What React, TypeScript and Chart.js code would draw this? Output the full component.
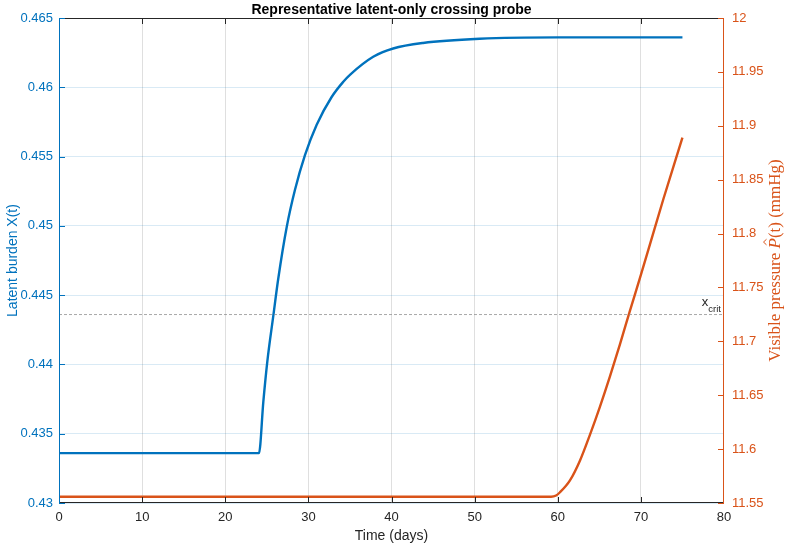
import React, { useEffect, useRef } from "react";
import { Chart, registerables } from "chart.js";

Chart.register(...registerables);

// Latent burden X(t) (left axis)
const latentTime = [0, 24.06, 24.58, 25.06, 25.78, 26.38, 27.39, 28.39, 29.59, 31.0, 32.8, 34.2, 35.0, 37.8, 40.2, 43.8, 50.6, 60, 75];
const latentValues = [0.4336, 0.4336, 0.4373, 0.4402, 0.4435, 0.4462, 0.4499, 0.4526, 0.4551, 0.4573, 0.4593, 0.4604, 0.4609, 0.4622, 0.4628, 0.4632, 0.4635, 0.4636, 0.4636];

// Visible pressure P-hat(t) (right axis)
const pressureTime = [0, 59.2, 59.8, 60.27, 61.47, 62.68, 63.88, 65.08, 66.28, 67.49, 68.69, 70, 71.1, 72.7, 75];
const pressureValues = [11.5558, 11.5558, 11.557, 11.56, 11.571, 11.5895, 11.6135, 11.6395, 11.6675, 11.6975, 11.7285, 11.7616, 11.7902, 11.8318, 11.889];

// critical threshold
const xCritValue = 0.4436;
const xCritSpan = [0, 80];

// tick labels
const xTicks = [0, 10, 20, 30, 40, 50, 60, 70, 80];
const leftTicks = [0.43, 0.435, 0.44, 0.445, 0.45, 0.455, 0.46, 0.465];
const rightTicks = [11.55, 11.6, 11.65, 11.7, 11.75, 11.8, 11.85, 11.9, 11.95, 12];

const BLUE = "#0072BD";
const ORANGE = "#D95319";
const DARK = "#262626";
const SANS = '"Liberation Sans", Arial, Helvetica, sans-serif';
const SERIF = '"Liberation Serif", "Times New Roman", serif';

const fmt = (v: number) => String(parseFloat(Number(v).toFixed(4)));

const overlay = {
  id: "overlay",
  afterDraw(chart: any) {
    const { ctx, chartArea: a, scales } = chart;
    ctx.save();
    ctx.lineWidth = 1;

    // box
    ctx.strokeStyle = DARK;
    ctx.beginPath();
    ctx.moveTo(a.left, Math.round(a.top) + 0.5);
    ctx.lineTo(a.right, Math.round(a.top) + 0.5);
    ctx.moveTo(a.left, Math.round(a.bottom) - 0.5);
    ctx.lineTo(a.right, Math.round(a.bottom) - 0.5);
    ctx.stroke();
    ctx.strokeStyle = BLUE;
    ctx.beginPath();
    ctx.moveTo(Math.round(a.left) + 0.5, a.top);
    ctx.lineTo(Math.round(a.left) + 0.5, a.bottom);
    ctx.stroke();
    ctx.strokeStyle = ORANGE;
    ctx.beginPath();
    ctx.moveTo(Math.round(a.right) - 0.5, a.top);
    ctx.lineTo(Math.round(a.right) - 0.5, a.bottom);
    ctx.stroke();

    // inward ticks
    const tl = 6;
    ctx.strokeStyle = DARK;
    ctx.beginPath();
    xTicks.forEach((v) => {
      if (v === xTicks[0] || v === xTicks[xTicks.length - 1]) return;
      const px = Math.round(scales.x.getPixelForValue(v)) + 0.5;
      ctx.moveTo(px, a.bottom);
      ctx.lineTo(px, a.bottom - tl);
      ctx.moveTo(px, a.top);
      ctx.lineTo(px, a.top + tl);
    });
    ctx.stroke();
    ctx.strokeStyle = BLUE;
    ctx.beginPath();
    leftTicks.forEach((v) => {
      const py = Math.round(scales.y.getPixelForValue(v)) + 0.5;
      ctx.moveTo(a.left, py);
      ctx.lineTo(a.left + tl, py);
    });
    ctx.stroke();
    ctx.strokeStyle = ORANGE;
    ctx.beginPath();
    rightTicks.forEach((v) => {
      const py = Math.round(scales.y1.getPixelForValue(v)) + 0.5;
      ctx.moveTo(a.right, py);
      ctx.lineTo(a.right - tl, py);
    });
    ctx.stroke();

    // title
    ctx.fillStyle = "#000";
    ctx.font = `bold 14px ${SANS}`;
    ctx.textAlign = "center";
    ctx.textBaseline = "middle";
    ctx.fillText("Representative latent-only crossing probe", (a.left + a.right) / 2, 10);

    // x title
    ctx.fillStyle = DARK;
    ctx.font = `14px ${SANS}`;
    ctx.fillText("Time (days)", (a.left + a.right) / 2, 536);

    // left title
    ctx.save();
    ctx.translate(17, (a.top + a.bottom) / 2);
    ctx.rotate(-Math.PI / 2);
    ctx.fillStyle = BLUE;
    ctx.textAlign = "center";
    ctx.textBaseline = "alphabetic";
    ctx.font = `14px ${SANS}`;
    ctx.fillText("Latent burden X(t)", 0, 0);
    ctx.restore();

    // right title (serif, mixed)
    ctx.save();
    ctx.translate(780, (a.top + a.bottom) / 2);
    ctx.rotate(-Math.PI / 2);
    ctx.fillStyle = ORANGE;
    ctx.strokeStyle = ORANGE;
    ctx.textAlign = "left";
    ctx.textBaseline = "alphabetic";
    const fs = 17;
    const normal = `${fs}px ${SERIF}`;
    const italic = `italic ${fs}px ${SERIF}`;
    const parts = [
      { t: "Visible pressure ", f: normal },
      { t: "P", f: italic, hat: true },
      { t: "(t) (mmHg)", f: normal },
    ];
    let total = 0;
    parts.forEach((p) => {
      ctx.font = p.f;
      total += ctx.measureText(p.t).width;
    });
    let x = -total / 2;
    parts.forEach((p: any) => {
      ctx.font = p.f;
      const w = ctx.measureText(p.t).width;
      ctx.fillText(p.t, x, 0);
      if (p.hat) {
        ctx.lineWidth = 1;
        ctx.beginPath();
        ctx.moveTo(x + w * 0.35, -13.5);
        ctx.lineTo(x + w * 0.62, -16.5);
        ctx.lineTo(x + w * 0.89, -13.5);
        ctx.stroke();
      }
      x += w;
    });
    ctx.restore();

    // x_crit label
    const yc = scales.y.getPixelForValue(xCritValue);
    ctx.fillStyle = DARK;
    ctx.textAlign = "left";
    ctx.textBaseline = "alphabetic";
    ctx.font = `13px ${SANS}`;
    const xw = ctx.measureText("x").width;
    ctx.font = `9.5px ${SANS}`;
    const cw = ctx.measureText("crit").width;
    const x0 = a.right - 3 - xw - cw;
    ctx.font = `13px ${SANS}`;
    ctx.fillText("x", x0, yc - 9);
    ctx.font = `9.5px ${SANS}`;
    ctx.fillText("crit", x0 + xw, yc - 3);

    ctx.restore();
  },
};

export default function App() {
  const ref = useRef<HTMLCanvasElement | null>(null);

  useEffect(() => {
    document.body.style.margin = "0";
    const canvas = ref.current;
    if (!canvas) return;
    const chart = new Chart(canvas, {
      type: "line",
      data: {
        datasets: [
          {
            label: "x_crit",
            data: xCritSpan.map((t) => ({ x: t, y: xCritValue })),
            yAxisID: "y",
            borderColor: "rgba(140,140,140,0.75)",
            borderWidth: 1,
            borderDash: [3, 2],
            pointRadius: 0,
            tension: 0,
          },
          {
            label: "X(t)",
            data: latentTime.map((t, i) => ({ x: t, y: latentValues[i] })),
            yAxisID: "y",
            borderColor: BLUE,
            borderWidth: 2.4,
            pointRadius: 0,
            cubicInterpolationMode: "monotone",
          },
          {
            label: "P(t)",
            data: pressureTime.map((t, i) => ({ x: t, y: pressureValues[i] })),
            yAxisID: "y1",
            borderColor: ORANGE,
            borderWidth: 2.4,
            pointRadius: 0,
            cubicInterpolationMode: "monotone",
          },
        ],
      },
      options: {
        animation: false,
        responsive: false,
        devicePixelRatio: 1,
        layout: { padding: { top: 18, left: 0, right: 0, bottom: 0 } },
        plugins: {
          legend: { display: false },
          title: { display: false },
          tooltip: { enabled: false },
        },
        scales: {
          x: {
            type: "linear",
            min: 0,
            max: 80,
            afterBuildTicks: (s: any) => {
              s.ticks = xTicks.map((v) => ({ value: v }));
            },
            afterFit: (s: any) => {
              s.height = 45;
            },
            border: { display: false },
            grid: {
              color: (c: any) =>
                c.tick && (c.tick.value === xTicks[0] || c.tick.value === xTicks[xTicks.length - 1])
                  ? "rgba(0,0,0,0)"
                  : "rgba(38,38,38,0.15)",
              drawTicks: false,
              lineWidth: 1,
            },
            ticks: {
              color: DARK,
              font: { family: SANS, size: 13 },
              padding: 7,
              maxRotation: 0,
              callback: (v: any) => fmt(v),
            },
          },
          y: {
            type: "linear",
            position: "left",
            min: 0.43,
            max: 0.465,
            afterBuildTicks: (s: any) => {
              s.ticks = leftTicks.map((v) => ({ value: v }));
            },
            afterFit: (s: any) => {
              s.width = 59;
            },
            border: { display: false },
            grid: { color: "rgba(0,114,189,0.15)", drawTicks: false, lineWidth: 1 },
            ticks: {
              color: BLUE,
              font: { family: SANS, size: 13 },
              padding: 6,
              callback: (v: any) => fmt(v),
            },
          },
          y1: {
            type: "linear",
            position: "right",
            min: 11.55,
            max: 12,
            afterBuildTicks: (s: any) => {
              s.ticks = rightTicks.map((v) => ({ value: v }));
            },
            afterFit: (s: any) => {
              s.width = 70;
            },
            border: { display: false },
            grid: { display: false, drawTicks: false },
            ticks: {
              color: ORANGE,
              font: { family: SANS, size: 13 },
              padding: 8,
              callback: (v: any) => fmt(v),
            },
          },
        },
      },
      plugins: [overlay],
    } as any);
    return () => chart.destroy();
  }, []);

  return (
    <div style={{ width: 794, height: 548, background: "#fff" }}>
      <canvas ref={ref} width={794} height={548} style={{ display: "block" }} />
    </div>
  );
}
